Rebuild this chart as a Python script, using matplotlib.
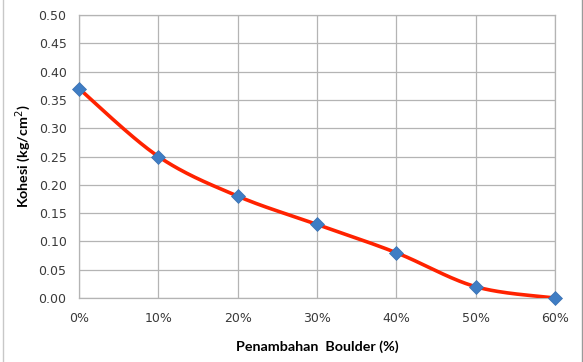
import matplotlib
matplotlib.use("Agg")
import matplotlib.pyplot as plt
import numpy as np
from matplotlib.lines import Line2D

# data
categories = ["0%", "10%", "20%", "30%", "40%", "50%", "60%"]
kohesi = [0.37, 0.25, 0.18, 0.13, 0.08, 0.02, 0.00]
y_ticks = [0.00, 0.05, 0.10, 0.15, 0.20, 0.25, 0.30, 0.35, 0.40, 0.45, 0.50]


def smooth_curve(xs, ys, n=40):
    # Excel style smoothed line (Catmull-Rom as cubic Bezier segments)
    pts = np.column_stack([xs, ys]).astype(float)
    ext = np.vstack([pts[0], pts, pts[-1]])
    out = []
    t = np.linspace(0, 1, n)[:, None]
    for i in range(len(pts) - 1):
        p0, p1, p2, p3 = ext[i], ext[i + 1], ext[i + 2], ext[i + 3]
        c1 = p1 + (p2 - p0) / 6.0
        c2 = p2 - (p3 - p1) / 6.0
        seg = ((1 - t) ** 3) * p1 + 3 * ((1 - t) ** 2) * t * c1 + 3 * (1 - t) * t ** 2 * c2 + t ** 3 * p2
        out.append(seg)
    out = np.vstack(out)
    return out[:, 0], out[:, 1]


fig = plt.figure(figsize=(5.83, 3.62), dpi=100)
ax = fig.add_axes([79 / 583, 64 / 362, 476 / 583, 283 / 362])

x = np.arange(len(categories))
sx, sy = smooth_curve(x, kohesi)
ax.plot(sx, sy, color="#ff2200", lw=2.6, solid_capstyle="round", zorder=3)
ax.plot(x, kohesi, linestyle="none", marker="D", ms=7.5, color="#3f7dc4",
        markeredgecolor="#3a70b0", markeredgewidth=0.5, zorder=4, clip_on=False)

ax.set_xlim(0, len(categories) - 1)
ax.set_ylim(0, 0.5)
ax.set_xticks(x)
ax.set_xticklabels(categories)
ax.set_yticks(y_ticks)
ax.set_yticklabels([f"{v:.2f}" for v in y_ticks])
ax.tick_params(length=0, labelsize=9, colors="#3a3a3a")
ax.tick_params(axis="y", pad=9)
ax.tick_params(axis="x", pad=10)
ax.grid(True, color="#b4b4b4", lw=0.9)
ax.set_axisbelow(True)
for s in ax.spines.values():
    s.set_color("#b4b4b4")
    s.set_linewidth(0.9)

ax.set_xlabel("Penambahan  Boulder (%)", fontfamily="Lato", fontweight="bold",
              fontsize=10.3, labelpad=11)
ax.set_ylabel("Kohesi (kg/cm$^2$)", fontfamily="Lato", fontweight="bold",
              fontsize=10.3, labelpad=4)

# chart border lines at left and right edge
fig.add_artist(Line2D([2.5 / 583, 2.5 / 583], [0, 1], color="#c8c8c8", lw=1))
fig.add_artist(Line2D([581.5 / 583, 581.5 / 583], [0, 1], color="#9a9a9a", lw=1))

fig.savefig("out.png", dpi=100)
